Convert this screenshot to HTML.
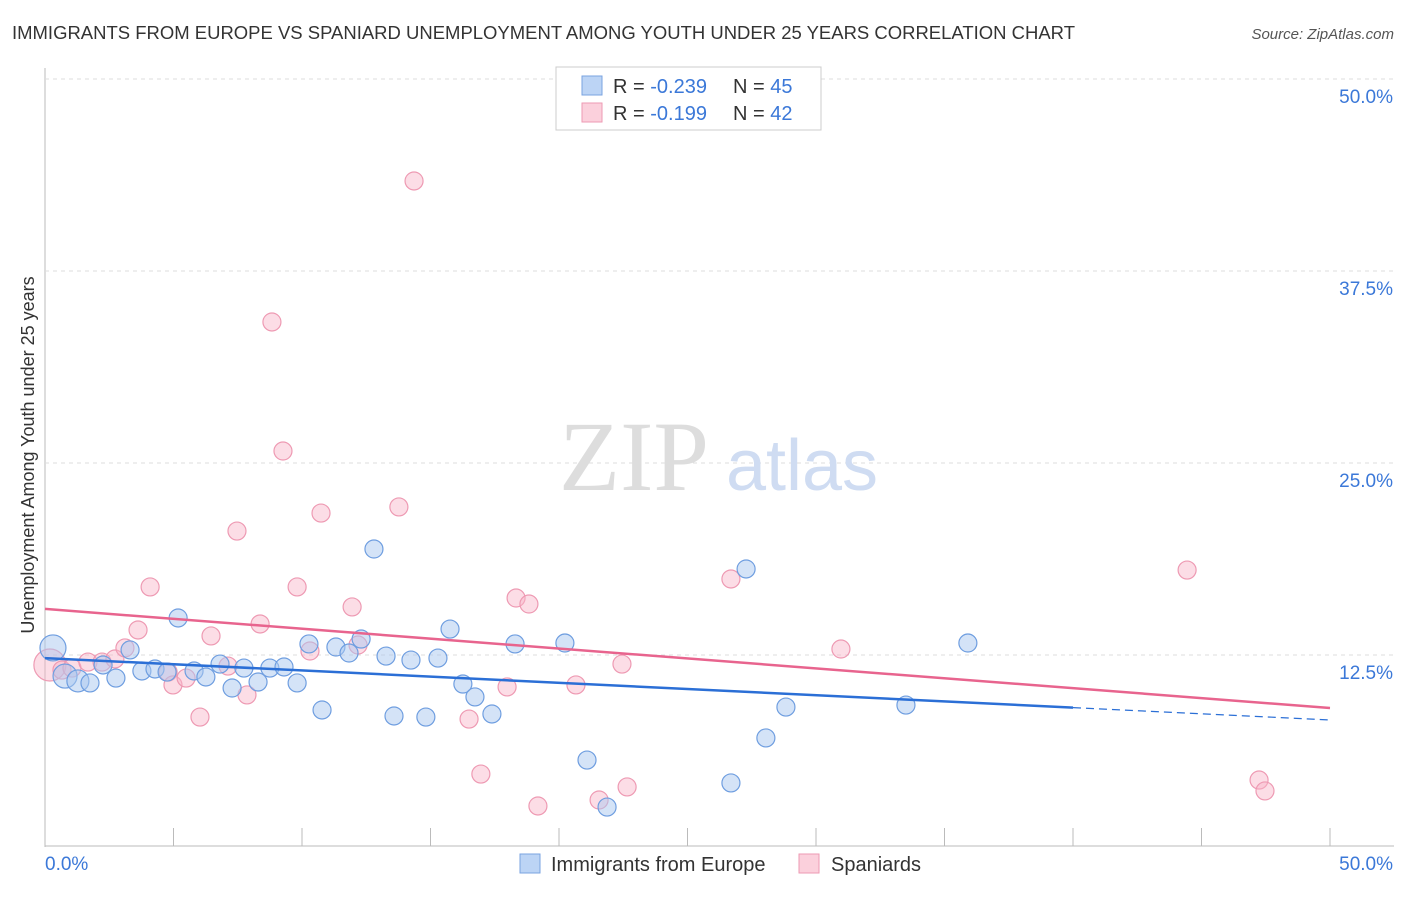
<!DOCTYPE html>
<html><head><meta charset="utf-8"><style>
body{margin:0;background:#fff;font-family:"Liberation Sans",sans-serif;}
svg text{font-family:"Liberation Sans",sans-serif;}
</style></head><body>
<svg id="chart" width="1406" height="892">
<text x="12" y="39" font-size="18" fill="#333" textLength="1063" lengthAdjust="spacingAndGlyphs">IMMIGRANTS FROM EUROPE VS SPANIARD UNEMPLOYMENT AMONG YOUTH UNDER 25 YEARS CORRELATION CHART</text>
<text x="1394" y="39" font-size="15" fill="#555" text-anchor="end" font-style="italic">Source: ZipAtlas.com</text>
<g id="grid"></g>
<text x="634" y="490" font-size="100" fill="#ddd" text-anchor="middle" font-family="Liberation Serif" style="font-family:'Liberation Serif',serif">ZIP</text>
<text x="802" y="490" font-size="72" fill="#cfdcf2" text-anchor="middle">atlas</text>
<text transform="translate(34,455) rotate(-90)" font-size="18" fill="#333" text-anchor="middle">Unemployment Among Youth under 25 years</text>
<g id="marks"></g>
<g>
<rect x="556" y="67" width="265" height="63" fill="#fff" stroke="#ccc"/>
<rect x="582" y="76" width="20" height="19" fill="#bcd4f5" stroke="#7aa3e0"/>
<rect x="582" y="103" width="20" height="19" fill="#fbd0dc" stroke="#ee9ab3"/>
<text x="613" y="93" font-size="20" fill="#333">R = <tspan fill="#3b78d8">-0.239</tspan><tspan x="733">N = </tspan><tspan fill="#3b78d8">45</tspan></text>
<text x="613" y="120" font-size="20" fill="#333">R = <tspan fill="#3b78d8"> -0.199</tspan><tspan x="733">N = </tspan><tspan fill="#3b78d8">42</tspan></text>
</g>
<g>
<rect x="520" y="854" width="20" height="19" fill="#bcd4f5" stroke="#7aa3e0"/>
<text x="551" y="871" font-size="20" fill="#333">Immigrants from Europe</text>
<rect x="799" y="854" width="20" height="19" fill="#fbd0dc" stroke="#ee9ab3"/>
<text x="831" y="871" font-size="20" fill="#333">Spaniards</text>
</g>
</svg>
<script>
const yTicks=[12.5,25,37.5,50];
const yTickLabels=["12.5%","25.0%","37.5%","50.0%"];
const xTickLabels=["0.0%","50.0%"];
const blueX=[0.31,0.78,1.28,1.75,2.26,2.76,3.31,3.77,4.28,4.75,5.18,5.80,6.26,6.81,7.28,7.74,8.29,8.75,9.30,9.81,10.27,10.78,11.32,11.83,12.30,12.80,13.27,13.58,14.24,14.82,15.29,15.76,16.26,16.73,17.39,18.29,20.23,21.09,21.87,26.69,27.28,28.05,28.83,33.50,35.91];
const blueY=[12.96,11.13,10.81,10.68,11.85,11.0,12.83,11.46,11.59,11.39,14.91,11.46,11.07,11.91,10.35,11.65,10.74,11.65,11.72,10.68,13.22,8.92,13.02,12.63,13.54,19.40,12.43,8.53,12.17,8.46,12.30,14.19,10.61,9.77,8.66,13.22,13.28,5.66,2.60,4.17,18.10,7.10,9.11,9.24,13.28];
const pinkX=[0.19,0.66,1.05,1.67,2.22,2.72,3.11,3.62,4.09,4.79,4.98,5.49,6.03,6.46,7.12,7.47,7.86,8.37,8.83,9.26,9.81,10.31,10.74,11.95,12.18,13.77,14.36,16.50,16.96,17.98,18.33,18.83,19.18,20.66,21.56,22.45,22.65,26.69,30.97,44.44,47.24,47.47];
const pinkY=[11.85,11.52,11.65,12.04,12.04,12.24,12.96,14.13,16.93,11.39,10.55,11.0,8.46,13.74,11.78,20.57,9.90,14.52,34.18,25.78,16.93,12.76,21.74,15.63,13.15,22.14,43.36,8.33,4.75,10.42,16.21,15.82,2.67,10.55,3.06,11.91,3.91,17.45,12.89,18.03,4.36,3.65];
const blueTrend=[12.3,8.27];
const pinkTrend=[15.5,9.05];
const blueSolidEnd=40;
const NS="http://www.w3.org/2000/svg";
const X=v=>45+v*25.7, Y=v=>847-v*15.36;
function mk(t,a,p){const e=document.createElementNS(NS,t);for(const k in a)e.setAttribute(k,a[k]);p.appendChild(e);return e;}
const grid=document.getElementById('grid'), marks=document.getElementById('marks');
let ax=mk('line',{x1:45,y1:68,x2:45,y2:847,stroke:'#bbb'},grid);


let bx=mk('line',{x1:45,y1:846,x2:1394,y2:846,stroke:'#bbb'},grid);


yTicks.forEach((t,i)=>{
 const g=mk('line',{x1:45,y1:Y(t),x2:1394,y2:Y(t),stroke:'#ddd','stroke-dasharray':'4,4'},grid);
 
 
 const tx=mk('text',{x:1393,y:Y(t)+24,'font-size':19,fill:'#3b78d8','text-anchor':'end'},grid);
 tx.textContent=yTickLabels[i];
 
 
});
for(let i=0;i<=10;i++){
 const tk=mk('line',{x1:X(i*5),y1:828,x2:X(i*5),y2:846,stroke:'#bbb'},grid);
 
 
}
[[0,'start',45],[50,'end',1393]].forEach((d,i)=>{
 const tx=mk('text',{x:d[2],y:870,'font-size':19,fill:'#3b78d8','text-anchor':d[1]},grid);
 tx.textContent=xTickLabels[i];
 
 
});
function dots(xs,ys,fill,stroke,name){
 xs.forEach((x,i)=>{
  const r=(name==='europe-point'?[13,12,11][i]:[16][i])||9;
  const c=mk('circle',{cx:X(x),cy:Y(ys[i]),r:r,fill:fill,stroke:stroke,'stroke-width':1.2},marks);
  
  
 });
}
dots(pinkX,pinkY,'rgba(248,180,200,0.45)','#ee9ab3','spaniard-point');
dots(blueX,blueY,'rgba(170,200,240,0.5)','#6f9ee0','europe-point');
const bAt=x=>blueTrend[0]+(blueTrend[1]-blueTrend[0])*x/50;
let l1=mk('line',{x1:X(0),y1:Y(bAt(0)),x2:X(blueSolidEnd),y2:Y(bAt(blueSolidEnd)),stroke:'#2b6fd6','stroke-width':2.5},marks);


let l2=mk('line',{x1:X(blueSolidEnd),y1:Y(bAt(blueSolidEnd)),x2:X(50),y2:Y(bAt(50)),stroke:'#2b6fd6','stroke-width':1.2,'stroke-dasharray':'8,5'},marks);


let l3=mk('line',{x1:X(0),y1:Y(pinkTrend[0]),x2:X(50),y2:Y(pinkTrend[1]),stroke:'#e8648e','stroke-width':2.5},marks);


</script>
</body></html>
